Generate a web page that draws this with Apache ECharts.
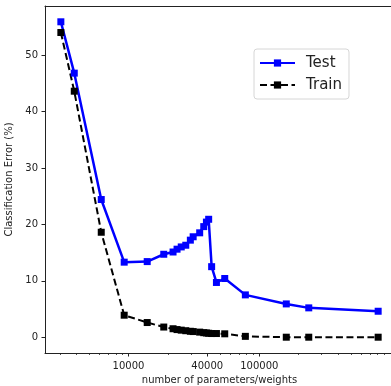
<!DOCTYPE html>
<html>
<head>
<meta charset="utf-8">
<script src="https://cdn.jsdelivr.net/npm/echarts@6/dist/echarts.min.js"></script>
<style>
html,body{margin:0;padding:0;background:#fff;}
#chart{width:391px;height:386px;}
</style>
</head>
<body>
<div id="chart"></div>
<script>
const paramCounts = [3040, 3850, 6190, 9270, 13900, 18600, 21900, 23500, 25300, 27400, 29700, 31200, 35000, 37600, 39400, 41000, 43200, 47000, 54400, 78200, 160700, 238700, 809600];
const testError = [55.9, 46.8, 24.4, 13.3, 13.4, 14.7, 15.1, 15.6, 16.0, 16.3, 17.2, 17.8, 18.5, 19.6, 20.4, 20.9, 12.5, 9.7, 10.4, 7.5, 5.9, 5.2, 4.6];
const trainError = [54.0, 43.6, 18.6, 3.9, 2.6, 1.8, 1.5, 1.35, 1.25, 1.15, 1.05, 1.0, 0.9, 0.8, 0.75, 0.7, 0.65, 0.65, 0.6, 0.15, 0.0, 0.0, 0.0];
const xMajorTicks = [10000, 40000, 100000];
const xMinorTicks = [3000, 4000, 5000, 6000, 7000, 8000, 9000, 20000, 30000, 50000, 60000, 70000, 80000, 90000, 200000, 300000, 400000, 500000, 600000, 700000, 800000, 900000];
const yTicks = [0, 10, 20, 30, 40, 50];

const FONT = 'DejaVu Sans';
const chart = echarts.init(document.getElementById('chart'), null, {renderer: 'canvas'});
const xRange = {min: 2300, max: 1070000};
const AX = '#222';

chart.setOption({
  animation: false,
  backgroundColor: '#fff',
  grid: {left: 45, top: 6, right: -3, bottom: 33, containLabel: false, outerBoundsMode: 'none', show: false},
  legend: {
    orient: 'vertical',
    left: 254, top: 49,
    padding: [6, 7, 6, 5],
    itemGap: 6,
    itemWidth: 35, itemHeight: 9,
    borderColor: '#d6d6d6', borderWidth: 1, borderRadius: 3,
    backgroundColor: 'rgba(255,255,255,0.8)',
    textStyle: {fontFamily: FONT, fontSize: 15, color: '#222', lineHeight: 16, padding: [0, 0, 0, 6]},
    data: ['Test', 'Train']
  },
  xAxis: [
    {
      type: 'log', logBase: 10, min: xRange.min, max: xRange.max,
      position: 'bottom',
      name: 'number of parameters/weights', nameLocation: 'middle', nameGap: 20,
      nameTextStyle: {fontFamily: FONT, fontSize: 10, color: '#222'},
      axisLine: {show: true, onZero: false, lineStyle: {color: AX, width: 1}},
      axisTick: {show: true, length: 3.5, customValues: xMajorTicks, lineStyle: {color: AX, width: 1}},
      axisLabel: {show: true, customValues: xMajorTicks, margin: 8, fontFamily: FONT, fontSize: 10, color: '#222', formatter: v => String(Math.round(v))},
      splitLine: {show: false}, minorTick: {show: false}
    },
    {
      type: 'log', logBase: 10, min: xRange.min, max: xRange.max,
      position: 'bottom', offset: 0,
      axisLine: {show: false, onZero: false},
      axisTick: {show: true, length: 2, customValues: xMinorTicks, lineStyle: {color: AX, width: 0.8}},
      axisLabel: {show: false},
      splitLine: {show: false}
    },
    {
      type: 'log', logBase: 10, min: xRange.min, max: xRange.max,
      position: 'top', offset: 0,
      axisLine: {show: true, onZero: false, lineStyle: {color: AX, width: 1}},
      axisTick: {show: false},
      axisLabel: {show: false},
      splitLine: {show: false}
    }
  ],
  yAxis: {
    type: 'value', min: -2.8, max: 58.7,
    name: 'Classification Error (%)', nameLocation: 'middle', nameGap: 30,
    nameTextStyle: {fontFamily: FONT, fontSize: 10, color: '#222'},
    axisLine: {show: true, onZero: false, lineStyle: {color: AX, width: 1}},
    axisTick: {show: true, length: 3.5, customValues: yTicks, lineStyle: {color: AX, width: 1}},
    axisLabel: {show: true, customValues: yTicks, margin: 7, fontFamily: FONT, fontSize: 10, color: '#222'},
    splitLine: {show: false}
  },
  series: [
    {
      name: 'Test', type: 'line', xAxisIndex: 0,
      data: paramCounts.map((p, i) => [p, testError[i]]),
      symbol: 'rect', symbolSize: 7, showAllSymbol: true,
      lineStyle: {color: '#0000ff', width: 2.5},
      itemStyle: {color: '#0000ff'}
    },
    {
      name: 'Train', type: 'line', xAxisIndex: 0,
      data: paramCounts.map((p, i) => [p, trainError[i]]),
      symbol: 'rect', symbolSize: 7, showAllSymbol: true,
      lineStyle: {color: '#000000', width: 2, type: [7, 3.5]},
      itemStyle: {color: '#000000'}
    }
  ]
});
</script>
</body>
</html>
